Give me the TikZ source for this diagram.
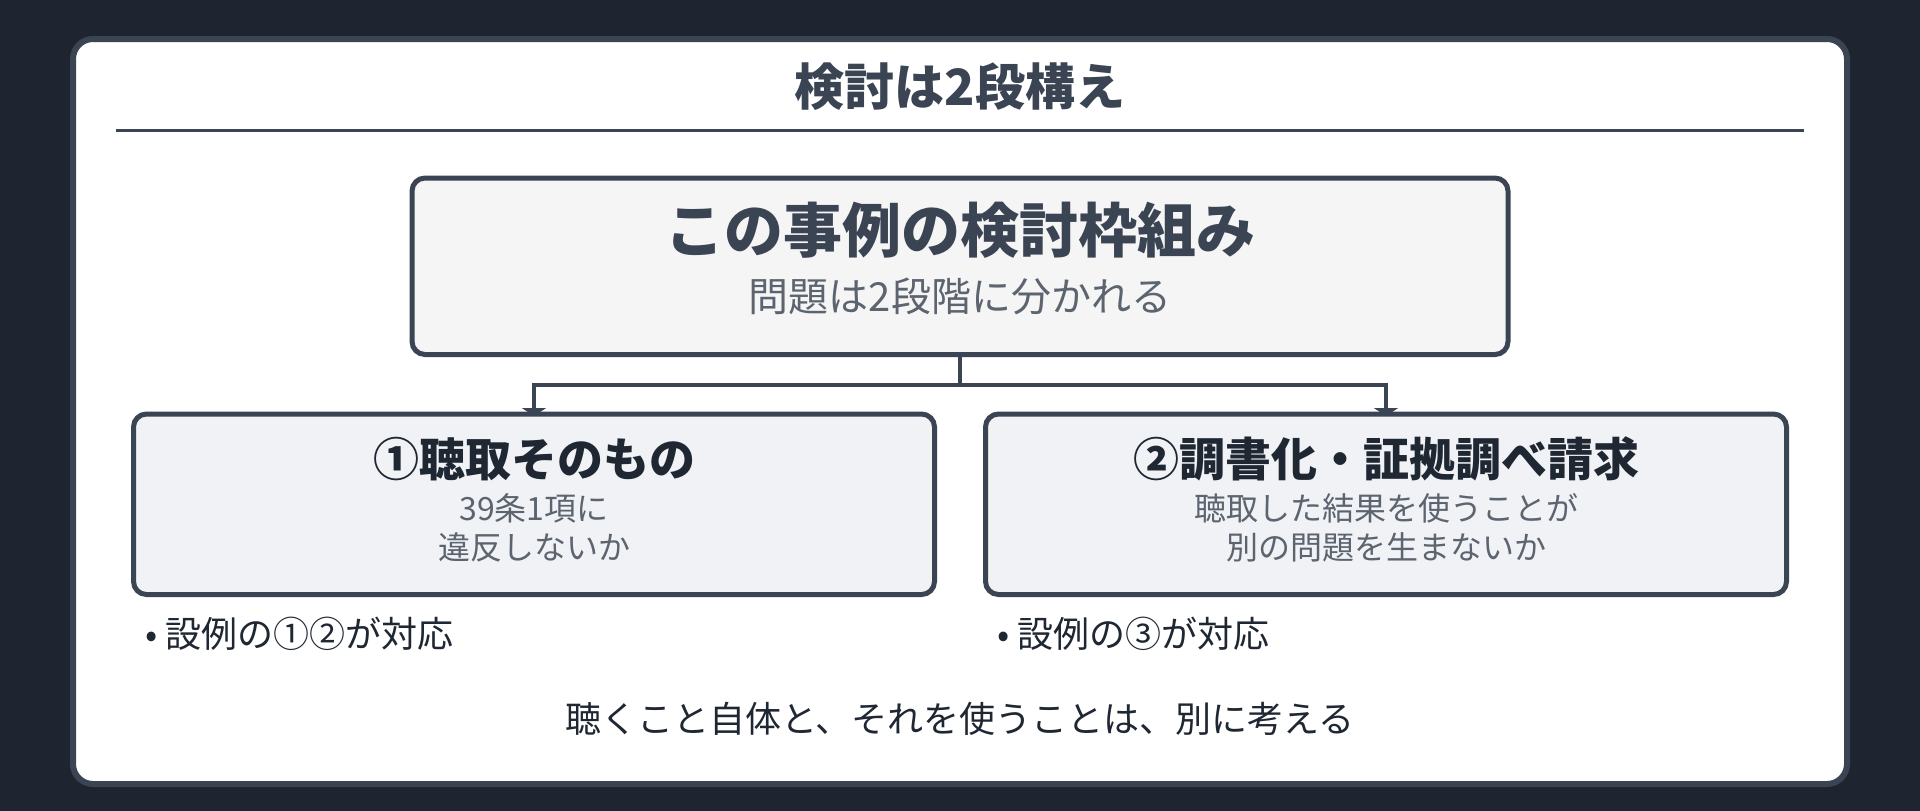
\documentclass[tikz,border=0pt]{standalone}
\usepackage{fontspec}
\setmainfont{Noto Sans CJK JP}
\usetikzlibrary{arrows.meta, positioning}
\tikzset{>=Stealth}
\definecolor{night}{HTML}{1E2530}
\definecolor{slate}{HTML}{3B4453}
\definecolor{ink}{HTML}{1F2733}
\definecolor{mute}{HTML}{5C6470}
\definecolor{paper}{HTML}{F5F5F5}
\definecolor{cloud}{HTML}{F0F2F5}
\tikzset{
  box/.style={draw=slate, line width=5pt, rounded corners=13pt, inner sep=0pt, outer sep=0pt},
  head/.style={font=\fontsize{46}{50}\selectfont\bfseries, text=ink},
  note/.style={font=\fontsize{32}{39}\selectfont, text=mute, align=center},
  item/.style={font=\fontsize{36}{40}\selectfont, text=ink, anchor=west, inner sep=0pt},
  link/.style={draw=slate, line width=4pt},
}

\begin{document}
\begin{tikzpicture}[x=1pt, y=-1pt]
      \useasboundingbox (0, 0) rectangle (1920, 811);
      \fill [night] (0, 0) rectangle (1920, 811);
      \draw [slate, fill=white, line width=6pt, rounded corners=20pt] (73, 39) rectangle (1847, 784);

      % title and rule
      \node (title) at (960, 87) [font=\fontsize{50}{54}\selectfont\bfseries, text=slate] {検討は2段構え};
      \coordinate (ruleL) at (116, 130.5);
      \coordinate (ruleR) at (1804, 130.5);
      \draw [slate, line width=3pt] (ruleL)--(ruleR);

      % boxes
      \node (frame) at (960, 266.25) [box, fill=paper, minimum width=1096pt, minimum height=176.5pt] {};
      \node (hear) at (534, 504.25) [box, fill=cloud, minimum width=801pt, minimum height=180.5pt] {};
      \node (use) at (1386, 504.25) [box, fill=cloud, minimum width=801pt, minimum height=180.5pt] {};

      \node (frametitle) at (960, 230) [font=\fontsize{59}{64}\selectfont\bfseries, text=slate] {この事例の検討枠組み};
      \node (framenote) at (960, 296) [font=\fontsize{40}{44}\selectfont, text=mute] {問題は2段階に分かれる};

      \node (heartitle) at (534, 459) [head] {①聴取そのもの};
      \node (hearnote) at (534, 527.5) [note] {39条1項に\\違反しないか};
      \node (usetitle) at (1386, 459) [head] {②調書化・証拠調べ請求};
      \node (usenote) at (1386, 527.5) [note] {聴取した結果を使うことが\\別の問題を生まないか};

      % connectors
      \coordinate (split) at (960, 385);
      \draw [link] (frame.south)--(split);
      \draw [link, -{Triangle[length=8pt, width=24pt]}, shorten >=-2pt] (split) -| (hear.north);
      \draw [link, -{Triangle[length=8pt, width=24pt]}, shorten >=-2pt] (split) -| (use.north);

      % bullets and bottom line
      \node (hearitem) at (145, 634) [item] {• 設例の①②が対応};
      \node (useitem) at (997, 634) [item] {• 設例の③が対応};
      \node (summary) at (960, 719) [font=\fontsize{36}{40}\selectfont, text=ink] {聴くこと自体と、それを使うことは、別に考える};
\end{tikzpicture}
\end{document}
